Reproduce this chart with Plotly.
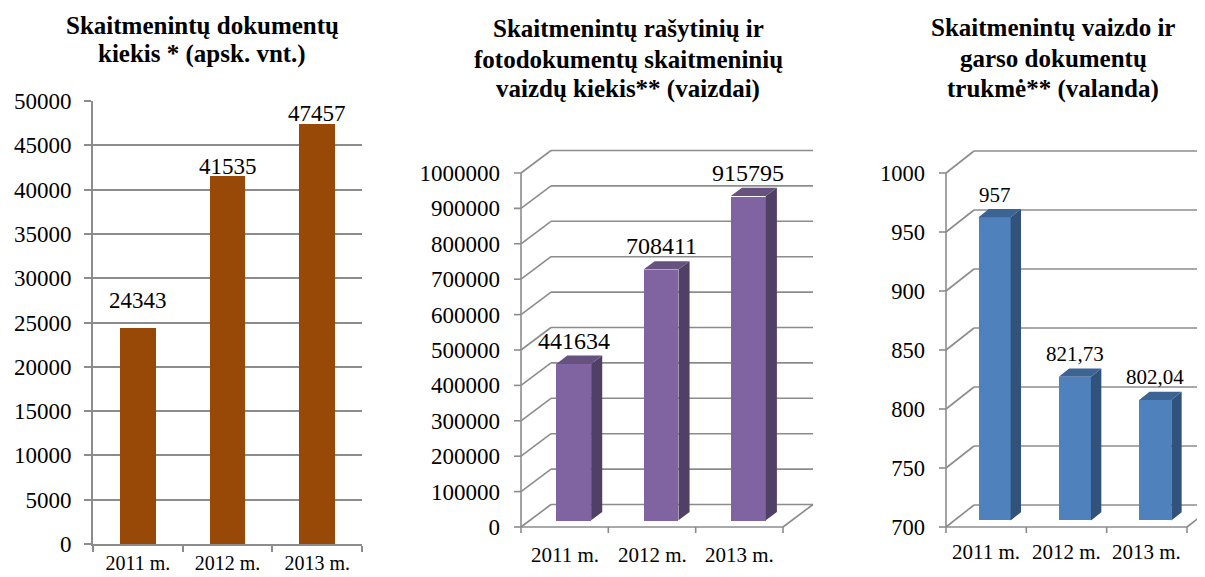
import plotly.graph_objects as go

# screen geometry (page body has an 8px margin)
SW, SH = 1205, 577
OX, OY = 8, 8
W, H = SW - OX, SH - OY

# ---------------- data ----------------
years = ["2011 m.", "2012 m.", "2013 m."]
documents = [24343, 41535, 47457]
images = [441634, 708411, 915795]
hours = [957, 821.73, 802.04]
hours_text = ["957", "821,73", "802,04"]

ticks_documents = [0, 5000, 10000, 15000, 20000, 25000, 30000, 35000, 40000, 45000, 50000]
ticks_images = [0, 100000, 200000, 300000, 400000, 500000, 600000, 700000, 800000, 900000, 1000000]
ticks_hours = [700, 750, 800, 850, 900, 950, 1000]

title_documents = ["Skaitmenintų dokumentų", "kiekis * (apsk. vnt.)"]
title_images = ["Skaitmenintų rašytinių ir", "fotodokumentų skaitmeninių",
                "vaizdų kiekis** (vaizdai)"]
title_hours = ["Skaitmenintų vaizdo ir", "garso dokumentų", "trukmė** (valanda)"]

# ---------------- style ----------------
FONT = "Times New Roman"
GRID = "#8c8c8c"
GW = 1.6

fig = go.Figure()
shapes = []
annotations = []
layout_axes = {}


def px_to_paper_x(p):
    return (p - OX) / W


def px_to_paper_y(p):
    return 1 - (p - OY) / H


def add_title(lines, cx, line_centers):
    for txt, cy in zip(lines, line_centers):
        annotations.append(dict(
            x=px_to_paper_x(cx), y=px_to_paper_y(cy), xref="paper", yref="paper",
            text=txt, showarrow=False, xanchor="center", yanchor="middle",
            font=dict(family=FONT, size=25, color="black", weight=700),
        ))


# ---------------- chart 1 (flat) ----------------
fig.add_trace(go.Bar(
    x=years, y=documents, width=0.4,
    marker=dict(color="#984807", line=dict(width=0)),
    xaxis="x", yaxis="y", hoverinfo="skip", showlegend=False,
))
label_lift_1 = [28, 10, 10]
for i, v in enumerate(documents):
    annotations.append(dict(
        x=years[i], y=v, xref="x", yref="y", text=str(v), showarrow=False,
        yanchor="middle", yshift=label_lift_1[i],
        font=dict(family=FONT, size=23, color="black"),
    ))
layout_axes["xaxis"] = dict(
    domain=[px_to_paper_x(93), px_to_paper_x(362)], anchor="y",
    type="category", tickson="boundaries", ticks="outside", ticklen=6,
    tickcolor=GRID, tickwidth=GW, showline=True, linecolor=GRID, linewidth=GW,
    showgrid=False, tickfont=dict(family=FONT, size=20, color="black"),
    ticklabelstandoff=0, fixedrange=True, automargin=False,
)
layout_axes["yaxis"] = dict(
    domain=[px_to_paper_y(544), px_to_paper_y(101)], anchor="x",
    range=[0, 50000], tickvals=ticks_documents, tickformat="d",
    ticks="outside", ticklen=7,
    tickcolor=GRID, tickwidth=GW, showline=True, linecolor=GRID, linewidth=GW,
    showgrid=True, gridcolor=GRID, gridwidth=GW, zeroline=False,
    tickfont=dict(family=FONT, size=23, color="black"), ticklabelstandoff=8,
    fixedrange=True, automargin=False,
)
add_title(title_documents, 202, [26, 54])


# ---------------- 3D-looking charts ----------------
def chart3d(idx, values, texts, ticks, FL, FR, FB, FT, DX, DY,
            face, side, top, tick_size, lab_size, lab_lift, xlab_drop):
    xr, yr = "x%d" % idx, "y%d" % idx
    n = len(values)
    ymin, ymax = ticks[0], ticks[-1]
    pad = 10
    right_px = min(FR + DX + 3, SW)
    kx = n / (FR - FL)
    ky = (ymax - ymin) / (FB - FT)
    dx, dy = DX * kx, DY * ky
    layout_axes["xaxis%d" % idx] = dict(
        domain=[px_to_paper_x(FL - pad), px_to_paper_x(right_px)], anchor=yr,
        range=[-0.5 - pad * kx, -0.5 + (right_px - FL) * kx],
        visible=False, fixedrange=True, automargin=False,
    )
    layout_axes["yaxis%d" % idx] = dict(
        domain=[px_to_paper_y(FB + pad), px_to_paper_y(FT - DY - 3)], anchor=xr,
        range=[ymin - pad * ky, ymax + (DY + 3) * ky],
        tickvals=ticks, tickformat="d", ticks="", showgrid=False, showline=False,
        zeroline=False,
        tickfont=dict(family=FONT, size=tick_size, color="black"),
        ticklabelstandoff=10, fixedrange=True, automargin=False,
    )

    def seg(x0, y0, x1, y1):
        shapes.append(dict(type="line", xref=xr, yref=yr, x0=x0, y0=y0, x1=x1, y1=y1,
                           line=dict(color=GRID, width=GW), layer="below"))

    left, right = -0.5, n - 0.5
    for v in ticks:
        seg(left, v, left + dx, v + dy)
        seg(left + dx, v + dy, right + dx, v + dy)
        seg(left - 7 * kx, v, left, v)
    seg(left, ymin, left, ymax)
    seg(left, ymin, right, ymin)
    seg(right, ymin, right + dx, ymin + dy)
    for b in range(n + 1):
        seg(b - 0.5, ymin, b - 0.5, ymin - 6 * ky)

    f0, f1 = 0.3, 0.67
    hw = 0.2
    xs = list(range(n))
    fig.add_trace(go.Bar(
        x=[i + f0 * dx for i in xs], y=[v - ymin for v in values],
        base=ymin + f0 * dy, width=2 * hw,
        marker=dict(color=face, line=dict(width=0)),
        xaxis=xr, yaxis=yr, hoverinfo="skip", showlegend=False,
    ))
    sx, sy, tx, ty = [], [], [], []
    for i, v in zip(xs, values):
        xa, xb = i - hw, i + hw
        sx += [xb + f0 * dx, xb + f0 * dx, xb + f1 * dx, xb + f1 * dx, xb + f0 * dx, None]
        sy += [ymin + f0 * dy, v + f0 * dy, v + f1 * dy, ymin + f1 * dy, ymin + f0 * dy, None]
        tx += [xa + f0 * dx, xb + f0 * dx, xb + f1 * dx, xa + f1 * dx, xa + f0 * dx, None]
        ty += [v + f0 * dy, v + f0 * dy, v + f1 * dy, v + f1 * dy, v + f0 * dy, None]
    fig.add_trace(go.Scatter(x=sx, y=sy, mode="lines", fill="toself", fillcolor=side,
                             line=dict(width=0, color=side), xaxis=xr, yaxis=yr,
                             hoverinfo="skip", showlegend=False))
    fig.add_trace(go.Scatter(x=tx, y=ty, mode="lines", fill="toself", fillcolor=top,
                             line=dict(width=0, color=top), xaxis=xr, yaxis=yr,
                             hoverinfo="skip", showlegend=False))
    for i, v, t in zip(xs, values, texts):
        annotations.append(dict(
            x=i + f0 * dx, y=v + f1 * dy, xref=xr, yref=yr, text=t, showarrow=False,
            yanchor="middle", yshift=lab_lift,
            font=dict(family=FONT, size=lab_size, color="black"),
        ))
        annotations.append(dict(
            x=i, y=ymin, xref=xr, yref=yr, text=years[i], showarrow=False,
            yanchor="middle", yshift=-xlab_drop,
            font=dict(family=FONT, size=21, color="black"),
        ))


chart3d(2, images, [str(v) for v in images], ticks_images,
        FL=521, FR=783, FB=527, FT=173, DX=30, DY=22.5,
        face="#8064A2", side="#514065", top="#67527F",
        tick_size=23, lab_size=24, lab_lift=15, xlab_drop=28)
add_title(title_images, 628, [29, 59, 89])

chart3d(3, hours, hours_text, ticks_hours,
        FL=946, FR=1187, FB=527, FT=173, DX=28, DY=22,
        face="#4F81BD", side="#31527A", top="#3B6394",
        tick_size=22.5, lab_size=21, lab_lift=14.5, xlab_drop=25)
add_title(title_hours, 1053, [28, 58.5, 88.5])

fig.update_layout(
    template="none",
    width=W, height=H, autosize=False,
    margin=dict(l=0, r=0, t=0, b=0, pad=0),
    paper_bgcolor="white", plot_bgcolor="rgba(0,0,0,0)",
    font=dict(family=FONT, color="black"),
    showlegend=False, bargap=0,
    shapes=shapes, annotations=annotations,
    **layout_axes,
)
fig.write_html("out.html")
